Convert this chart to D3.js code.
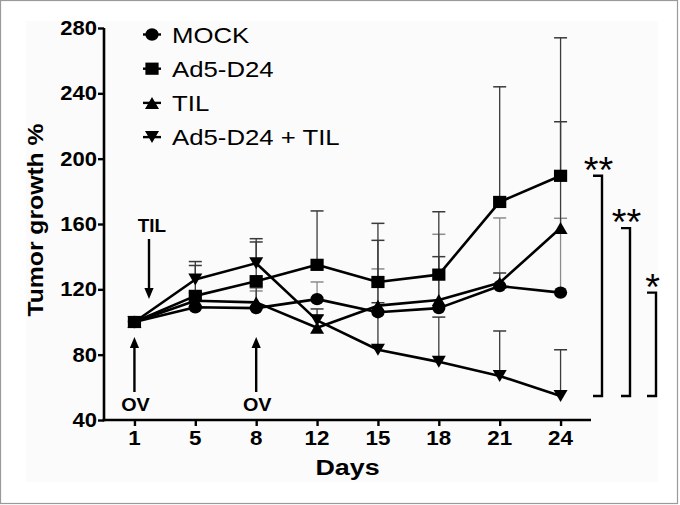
<!DOCTYPE html>
<html><head><meta charset="utf-8">
<script src="https://cdn.jsdelivr.net/npm/d3@7"></script>
<style>
html,body{margin:0;padding:0;background:#fff;}
svg{display:block;font-family:"Liberation Sans",Arial,sans-serif;}
</style></head>
<body><svg id="c" width="680" height="505"></svg>
<script>
// ---- data ----
const days = ["1","5","8","12","15","18","21","24"];
const seriesNames = ["MOCK","Ad5-D24","TIL","Ad5-D24 + TIL"];
const mockMean  = [100,109,108.5,114,106,108.5,122,118];
const mockErr   = [0,4,10.5,10.5,26.5,45.2,41.7,45.5];
const ad5Mean   = [100,116,125,135,124.5,129,173.5,189.5];
const ad5Err    = [0,18.6,24,33,35.9,38.5,70.5,84.5];
const tilMean   = [100,113,112,96.5,110,113.5,124,157.5];
const tilErr    = [0,5,9,7.5,40,26.5,6,65.1];
const comboMean = [100,126,136,101,83,75.6,67,54.7];
const comboErr  = [0,11,15,7,28.8,27.4,27.5,28.3];
const yTicks = [40,80,120,160,200,240,280];
const sigLabels = ["**","**","*"];

const svg = d3.select("#c");
// background panel & border
svg.append("rect").attr("x",0.5).attr("y",0.5).attr("width",677).attr("height",503)
  .attr("fill","#fff").attr("stroke","#9a9a9a").attr("stroke-width",1.2);
svg.append("rect").attr("x",26).attr("y",21).attr("width",632).attr("height",461).attr("fill","#fbfbfb");

const x = d3.scalePoint().domain(days).range([104,591]).padding(0.5);
const y = d3.scaleLinear().domain([40,280]).range([420,28]);

function txt(g, px, py, s, size, weight, anchor, sx, rot){
  return g.append("text")
    .attr("transform", `translate(${px},${py})` + (rot?` rotate(${rot})`:"") + ` scale(${sx},1)`)
    .attr("text-anchor", anchor).attr("fill","#000")
    .style("font-size", size+"px").style("font-weight", weight).text(s);
}

// axes
const gy = svg.append("g").attr("transform","translate(104,0)")
  .call(d3.axisLeft(y).tickValues(yTicks).tickSize(6).tickSizeOuter(0).tickFormat(""));
const gx = svg.append("g").attr("transform","translate(0,420)")
  .call(d3.axisBottom(x).tickSize(6).tickSizeOuter(0).tickFormat(""));
[gy,gx].forEach(g=>{
  g.select(".domain").attr("stroke","#000").attr("stroke-width",2.6);
  g.selectAll(".tick line").attr("stroke","#000").attr("stroke-width",2.4);
});
gx.select(".domain").attr("d","M102.7,0H591");
gy.select(".domain").attr("d","M0,28V421.3");
yTicks.forEach(t=> txt(svg, 97, y(t)+7, String(t), 20, "bold", "end", 1.1));
days.forEach(d=> txt(svg, x(d), 445, d, 20, "bold", "middle", 1.12));
txt(svg, 347.5, 475, "Days", 22, "bold", "middle", 1.22);
txt(svg, 43, 220, "Tumor growth %", 21.5, "bold", "middle", 1.15, -90);

const series = [
  {name:seriesNames[0], mean:mockMean, err:mockErr, shape:"circle", ec:"#8c8c8c"},
  {name:seriesNames[1], mean:ad5Mean, err:ad5Err, shape:"square", ec:"#3a3a3a"},
  {name:seriesNames[2], mean:tilMean, err:tilErr, shape:"up", ec:"#3a3a3a"},
  {name:seriesNames[3], mean:comboMean, err:comboErr, shape:"down", ec:"#3a3a3a"}
];

function marker(g, shape, cx, cy){
  if(shape==="circle") g.append("ellipse").attr("cx",cx).attr("cy",cy).attr("rx",6.6).attr("ry",6.2).attr("fill","#000");
  else if(shape==="square") g.append("rect").attr("x",cx-6.6).attr("y",cy-6.1).attr("width",13.2).attr("height",12.2).attr("fill","#000");
  else if(shape==="up") g.append("path").attr("d",`M${cx-7},${cy+6}L${cx+7},${cy+6}L${cx},${cy-6}Z`).attr("fill","#000");
  else g.append("path").attr("d",`M${cx-7},${cy-6}L${cx+7},${cy-6}L${cx},${cy+6}Z`).attr("fill","#000");
}

// error bars
const ge = svg.append("g");
series.forEach(s=>{
  days.forEach((d,i)=>{
    if(!s.err[i]) return;
    const top = y(s.mean[i]+s.err[i]);
    ge.append("line").attr("x1",x(d)).attr("x2",x(d)).attr("y1",y(s.mean[i])).attr("y2",top)
      .attr("stroke",s.ec).attr("stroke-width",1.3);
    ge.append("line").attr("x1",x(d)-6.5).attr("x2",x(d)+6.5).attr("y1",top).attr("y2",top)
      .attr("stroke",s.ec).attr("stroke-width",1.5);
  });
});
// lines
const line = d3.line().x((v,i)=>x(days[i])).y(v=>y(v));
series.forEach(s=>{
  svg.append("path").attr("d",line(s.mean)).attr("fill","none").attr("stroke","#000")
    .attr("stroke-width",2.6).attr("stroke-linejoin","round");
});
// markers
const gm = svg.append("g");
series.forEach(s=> days.forEach((d,i)=> marker(gm, s.shape, x(d), y(s.mean[i]))));

// legend
series.forEach((s,i)=>{
  const cy = 34.5 + 34.2*i;
  svg.append("line").attr("x1",143).attr("x2",161).attr("y1",cy).attr("y2",cy).attr("stroke","#000").attr("stroke-width",2.4);
  marker(svg, s.shape, 152, cy);
  txt(svg, 172, cy+8, s.name, 23, "normal", "start", 1.12);
});

// arrows
function arrow(x0, y0, y1){ // from y0 to tip y1
  const dir = y1>y0 ? 1 : -1;
  svg.append("line").attr("x1",x0).attr("x2",x0).attr("y1",y0).attr("y2",y1-dir*8)
    .attr("stroke","#000").attr("stroke-width",2.4);
  svg.append("path").attr("d",`M${x0-4.6},${y1-dir*11}L${x0+4.6},${y1-dir*11}L${x0},${y1}Z`).attr("fill","#000");
}
arrow(149, 239, 299);
txt(svg, 152, 232, "TIL", 18, "bold", "middle", 1.05);
arrow(x("1"), 392, 337);
arrow(x("8"), 392, 337);
txt(svg, x("1")+1, 411, "OV", 18, "bold", "middle", 1.1);
txt(svg, x("8")+1, 411, "OV", 18, "bold", "middle", 1.1);

// significance brackets (last day: each group vs combo)
const last = days.length-1;
const bracketX = [602, 630, 656];
[ad5Mean, tilMean, mockMean].forEach((m,i)=>{
  const xv = bracketX[i], yt = y(m[last]), yb = y(comboMean[last]);
  svg.append("path").attr("d",`M${xv-9},${yt}H${xv}V${yb}H${xv-9}`)
    .attr("fill","none").attr("stroke","#000").attr("stroke-width",2.4);
  txt(svg, xv-3.5, yt+7, sigLabels[i], 36, "normal", "middle", 1.05);
});
</script></body></html>
